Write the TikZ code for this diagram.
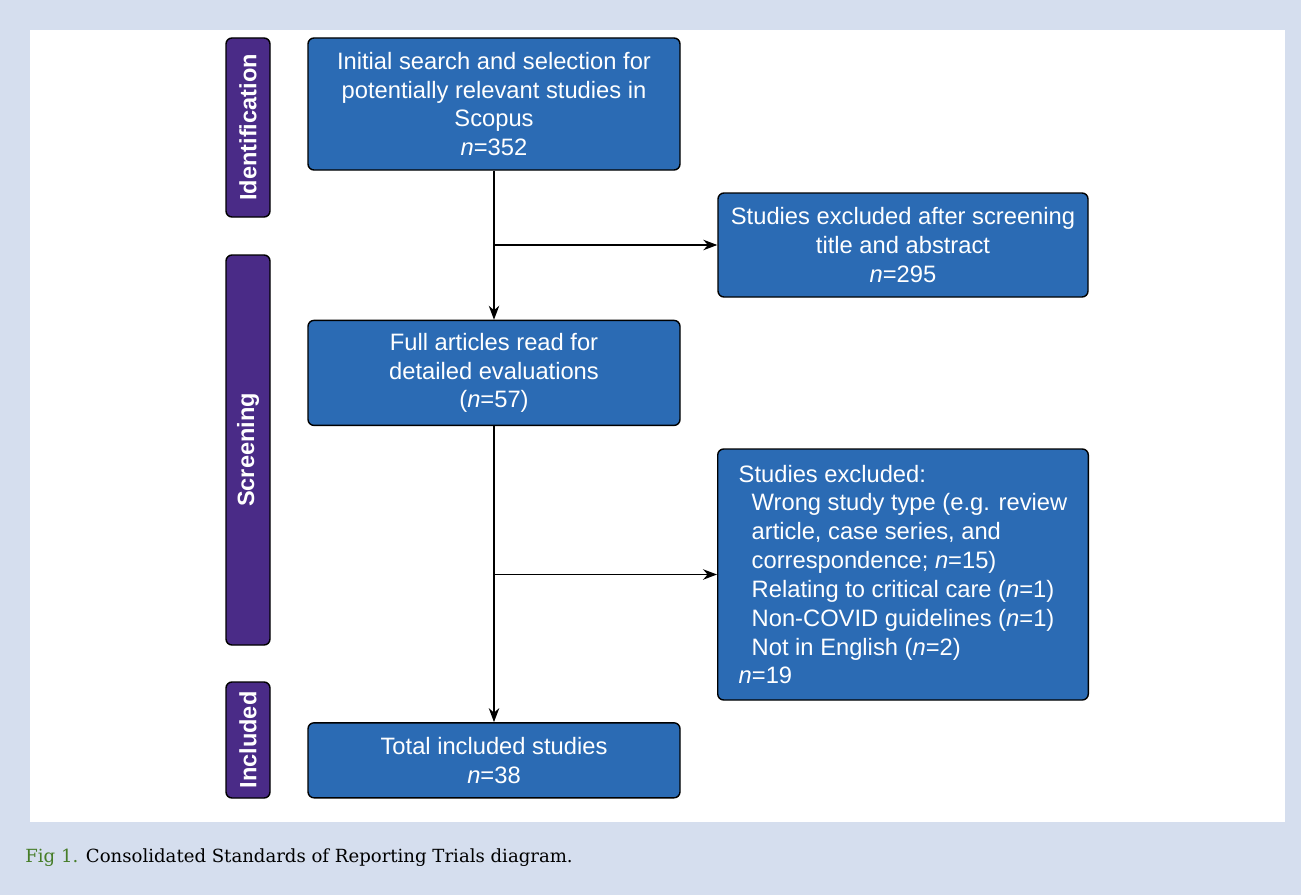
\documentclass[tikz,border=0pt]{standalone}
\usepackage{fontspec}
\setmainfont{Liberation Sans}
\newfontfamily\capfont{DejaVu Serif}
\usepackage{xcolor}
\usetikzlibrary{positioning,arrows.meta}
\definecolor{boxblue}{RGB}{43,107,180}
\definecolor{stagepurple}{RGB}{74,43,135}
\definecolor{panel}{RGB}{213,222,238}
\definecolor{figgreen}{RGB}{70,125,40}

\begin{document}
\begin{tikzpicture}[>={Stealth[length=2.8mm,width=2.1mm]},node distance=3cm,
  box/.style={draw=black,fill=boxblue,text=white,rounded corners=1.2mm,line width=0.8pt,minimum width=7.44cm,align=center,font=\fontsize{13.5}{16.4}\selectfont},
  stage/.style={draw=black,fill=stagepurple,text=white,rounded corners=1.2mm,line width=0.8pt,rotate=90,minimum height=0.88cm,font=\fontsize{13.4}{16.4}\selectfont\bfseries}]
  \fill[panel] (0,0) rectangle (26.02,-17.9);
  \fill[white] (0.6,-0.6) rectangle (25.7,-16.44);
  % stages
  \node[stage,minimum width=3.58cm] (ident) at (4.96,-2.55) {Identification};
  \node[stage,minimum width=7.8cm] (screen) at (4.96,-9.0) {Screening};
  \node[stage,minimum width=2.32cm] (incl) at (4.96,-14.8) {Included};
  % main column
  \node[box,minimum height=2.64cm] (search) at (9.88,-2.08) {Initial search and selection for\\potentially relevant studies in\\Scopus\\\textit{n}=352};
  \node[box,minimum height=2.1cm,below=2.98cm of search] (full) {Full articles read for\\detailed evaluations\\(\textit{n}=57)};
  \node[box,minimum height=1.5cm,below=5.92cm of full] (total) {Total included studies\\\textit{n}=38};
  % exclusions
  \node[box,minimum width=7.4cm,minimum height=2.08cm] (excl1) at (18.06,-4.9) {Studies excluded after screening\\title and abstract\\\textit{n}=295};
  \node[box,minimum width=7.4cm,minimum height=5.02cm,align=left,inner xsep=0.42cm,inner ysep=0.1cm] (excl2) at (18.06,-11.49) {Studies excluded:\\
    \hspace*{0.26cm}Wrong study type (e.g. review\\
    \hspace*{0.26cm}article, case series, and\\
    \hspace*{0.26cm}correspondence; \textit{n}=15)\\
    \hspace*{0.26cm}Relating to critical care (\textit{n}=1)\\
    \hspace*{0.26cm}Non-COVID guidelines (\textit{n}=1)\\
    \hspace*{0.26cm}Not in English (\textit{n}=2)\\
    \textit{n}=19};
  \path[->,line width=0.7pt] (search) edge (full)
            (full) edge (total)
            (search.south |- excl1.west) edge (excl1.west)
            (full.south |- excl2.west) edge (excl2.west);
  % caption
  \node[anchor=base west,inner sep=0pt,font=\capfont\fontsize{10.3}{12}\selectfont] (cap) at (0.5,-17.24) {\textcolor{figgreen}{Fig 1.} Consolidated Standards of Reporting Trials diagram.};
\end{tikzpicture}
\end{document}
